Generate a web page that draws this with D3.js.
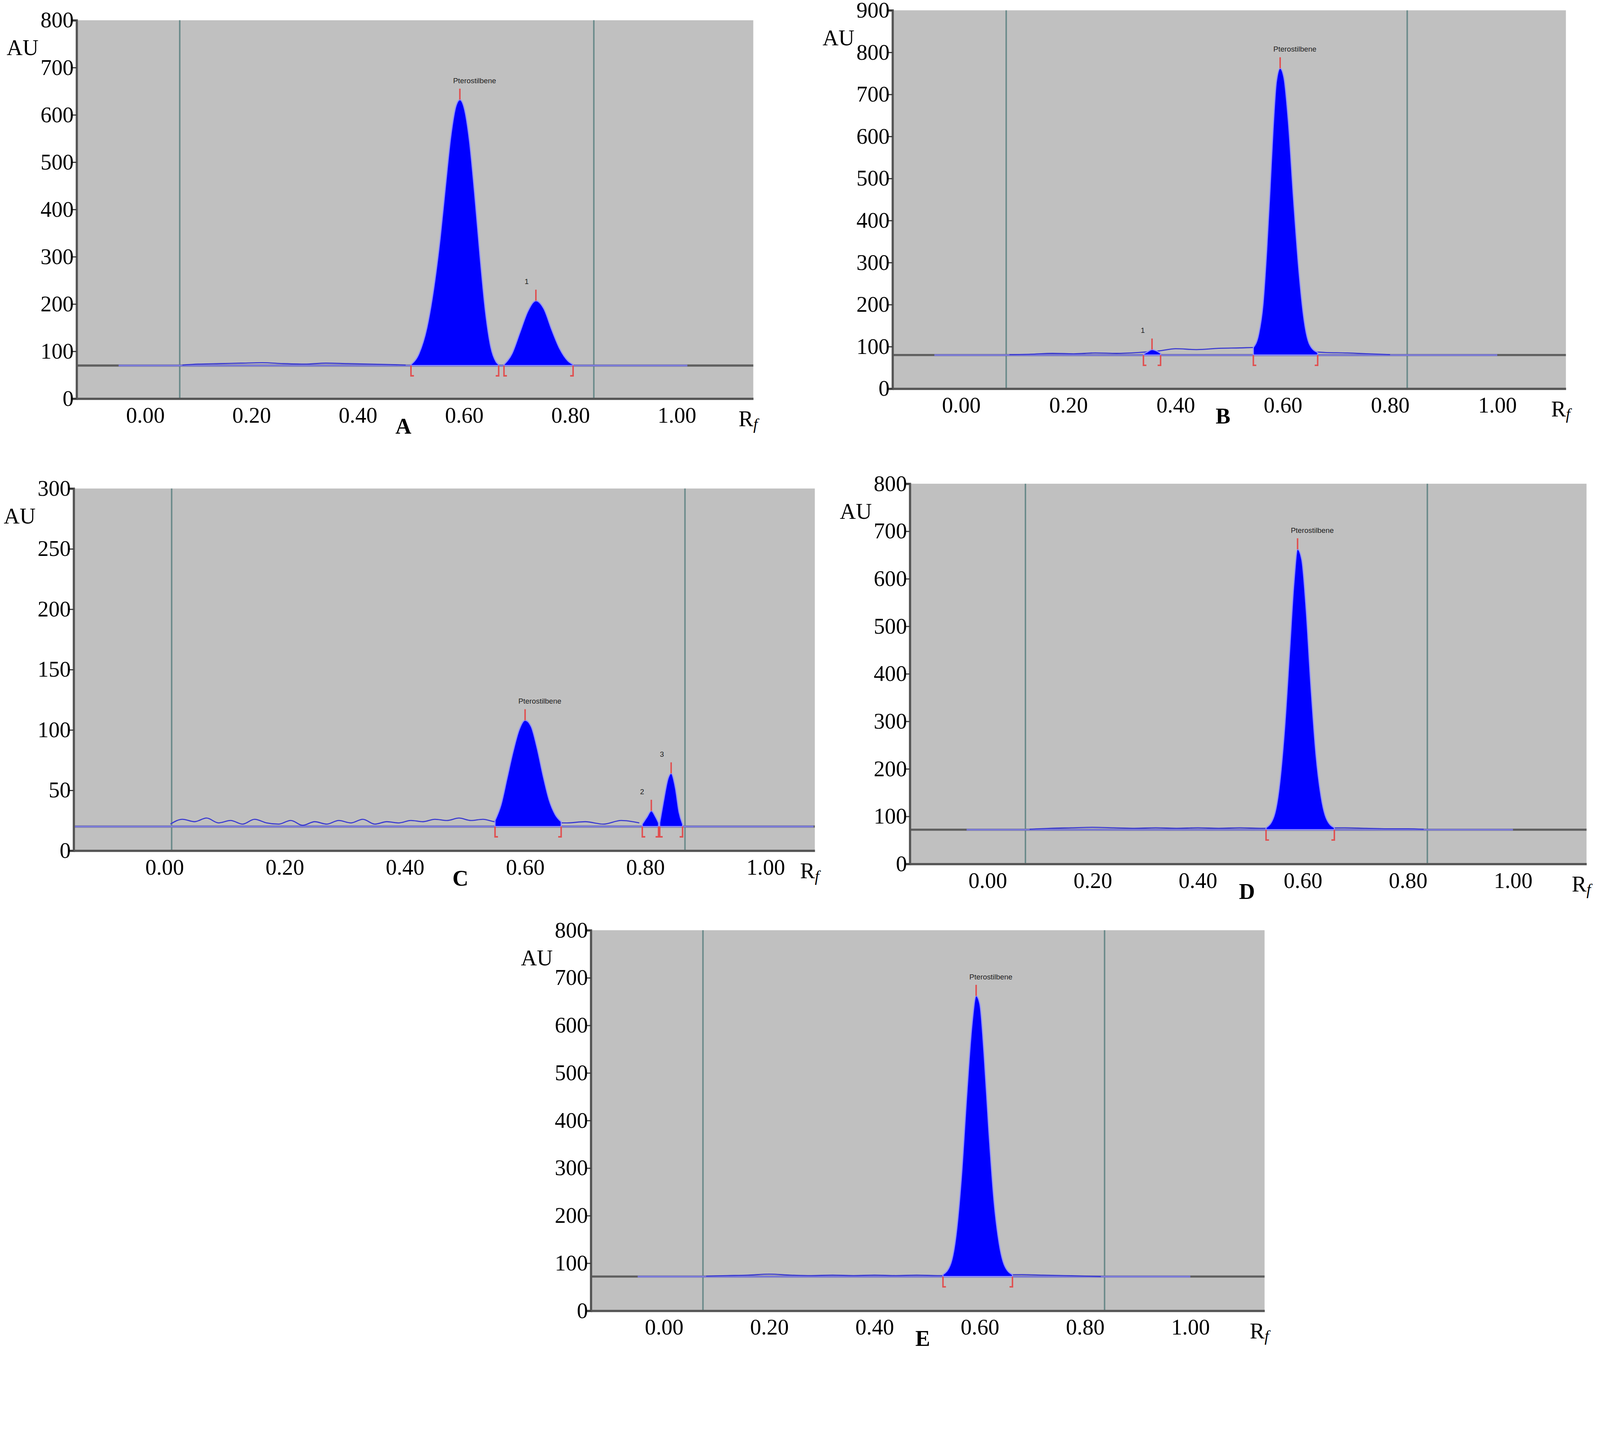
<!DOCTYPE html>
<html><head><meta charset="utf-8">
<script src="https://cdn.jsdelivr.net/npm/d3@7"></script>
<style>body{margin:0;background:#fff}svg{display:block}</style>
</head><body>
<svg id="chart" width="4351" height="3668"></svg>
<script>
// panel letters and y ranges
const panelNames = ['A', 'B', 'C', 'D', 'E'];
const yMax = [800, 900, 300, 800, 800];
const yTickStep = [100, 100, 50, 100, 100];
const xTicks = [0, 0.2, 0.4, 0.6, 0.8, 1.0];
// Rf of the two vertical plate markers
const markers = [[0.065, 0.844], [0.084, 0.832], [0.012, 0.866], [0.072, 0.837], [0.074, 0.837]];
// baseline level (AU) and the blue scan extent
const baseline = [70, 80, 20, 72, 72];
const scanRange = [[-0.05, 1.02], [-0.05, 1.0], [-0.15, 1.08], [-0.04, 1.0], [-0.05, 1.0]];
// noisy baseline trace [Rf, AU]
const noiseA = [[0.07,71],[0.10,73],[0.14,74],[0.18,75],[0.22,76],[0.26,74],[0.30,73],[0.34,75],[0.38,74],[0.42,73],[0.46,72],[0.49,71]];
const noiseB = [[0.09,81],[0.13,82],[0.17,84],[0.21,83],[0.25,85],[0.29,84],[0.33,86],[0.37,90],[0.40,95],[0.44,93],[0.48,96],[0.52,97],[0.55,98],[0.68,86],[0.72,85],[0.76,83],[0.80,81]];
const noiseC = [[0.01,22],[0.03,26],[0.05,24],[0.07,27],[0.09,23],[0.11,25],[0.13,22],[0.15,26],[0.17,23],[0.19,22],[0.21,25],[0.23,21],[0.25,24],[0.27,22],[0.29,25],[0.31,23],[0.33,26],[0.35,22],[0.37,24],[0.39,23],[0.41,25],[0.43,24],[0.45,26],[0.47,25],[0.49,27],[0.51,25],[0.53,26],[0.55,24],[0.67,23],[0.70,24],[0.73,22],[0.76,25],[0.79,23]];
const noiseD = [[0.08,73],[0.12,75],[0.16,76],[0.20,77],[0.24,76],[0.28,75],[0.32,76],[0.36,75],[0.40,76],[0.44,75],[0.48,76],[0.52,75],[0.68,76],[0.72,75],[0.76,74],[0.80,74],[0.83,73]];
const noiseE = [[0.08,73],[0.12,74],[0.16,75],[0.20,77],[0.24,75],[0.28,74],[0.32,75],[0.36,74],[0.40,75],[0.44,74],[0.48,75],[0.52,74],[0.68,76],[0.72,75],[0.76,74],[0.80,73],[0.83,72]];
const noiseData = [noiseA, noiseB, noiseC, noiseD, noiseE];
// peak profiles [Rf, AU]
const peaksA = [
  {label: 'Pterostilbene', pts: [[0.500,72],[0.515,95],[0.530,150],[0.545,250],[0.555,340],[0.565,450],[0.575,555],[0.585,620],[0.592,632],[0.600,615],[0.610,545],[0.620,430],[0.630,300],[0.640,185],[0.650,110],[0.660,78],[0.665,72]]},
  {label: '1', pts: [[0.675,72],[0.690,95],[0.705,140],[0.720,185],[0.735,207],[0.750,190],[0.765,145],[0.780,105],[0.795,80],[0.805,72]]}
];
const peaksB = [
  {label: '1', pts: [[0.340,82],[0.348,88],[0.356,93],[0.364,90],[0.372,84]]},
  {label: 'Pterostilbene', pts: [[0.545,98],[0.555,130],[0.563,200],[0.570,330],[0.576,470],[0.582,620],[0.588,730],[0.595,762],[0.602,740],[0.610,640],[0.620,450],[0.630,280],[0.640,160],[0.650,105],[0.665,86]]}
];
const peaksC = [
  {label: 'Pterostilbene', pts: [[0.550,25],[0.560,38],[0.570,60],[0.580,82],[0.590,100],[0.600,108],[0.610,103],[0.620,85],[0.630,62],[0.640,42],[0.650,30],[0.660,24]]},
  {label: '2', pts: [[0.795,22],[0.803,28],[0.810,33],[0.817,28],[0.822,23]]},
  {label: '3', pts: [[0.824,23],[0.830,40],[0.838,60],[0.843,64],[0.850,52],[0.856,32],[0.862,22]]}
];
const peaksD = [
  {label: 'Pterostilbene', pts: [[0.530,76],[0.545,100],[0.555,160],[0.565,280],[0.575,450],[0.583,590],[0.590,662],[0.598,640],[0.606,540],[0.615,380],[0.625,230],[0.635,140],[0.645,95],[0.660,76]]}
];
const peaksE = [
  {label: 'Pterostilbene', pts: [[0.530,76],[0.545,100],[0.555,160],[0.565,280],[0.575,450],[0.585,600],[0.593,662],[0.600,645],[0.608,540],[0.617,380],[0.627,230],[0.637,140],[0.647,95],[0.662,76]]}
];
const peakData = [peaksA, peaksB, peaksC, peaksD, peaksE];

// layout (pixels, before the global scale): plot box and x domain per panel
const boxes = [
  {x0: 208, x1: 2045, y0: 55, y1: 1082, d: [-0.129, 1.144], lx: 1095},
  {x0: 2423, x1: 4251, y0: 28, y1: 1055, d: [-0.128, 1.128], lx: 3320},
  {x0: 200, x1: 2212, y0: 1326, y1: 2309, d: [-0.151, 1.082], lx: 1250},
  {x0: 2470, x1: 4307, y0: 1313, y1: 2345, d: [-0.148, 1.140], lx: 3385},
  {x0: 1604, x1: 3433, y0: 2525, y1: 3558, d: [-0.139, 1.141], lx: 2505}
];
const S = 0.943;

const svg = d3.select('#chart').append('g').attr('transform', `scale(${S})`);
const serif = 'Liberation Serif, Times New Roman, serif';

panelNames.forEach((name, i) => {
  const b = boxes[i];
  const x = d3.scaleLinear().domain(b.d).range([b.x0, b.x1]);
  const y = d3.scaleLinear().domain([0, yMax[i]]).range([b.y1, b.y0]);
  const g = svg.append('g');

  g.append('rect').attr('x', b.x0).attr('y', b.y0)
    .attr('width', b.x1 - b.x0).attr('height', b.y1 - b.y0).attr('fill', '#c0c0c0');

  markers[i].forEach(m => {
    g.append('line').attr('x1', x(m)).attr('x2', x(m)).attr('y1', b.y0).attr('y2', b.y1)
      .attr('stroke', '#6a8a8a').attr('stroke-width', 4);
  });

  // baseline
  g.append('line').attr('x1', b.x0).attr('x2', b.x1).attr('y1', y(baseline[i])).attr('y2', y(baseline[i]))
    .attr('stroke', '#606060').attr('stroke-width', 6);
  g.append('line').attr('x1', x(scanRange[i][0])).attr('x2', x(scanRange[i][1]))
    .attr('y1', y(baseline[i])).attr('y2', y(baseline[i]))
    .attr('stroke', '#7c7cd8').attr('stroke-width', 5);

  const line = d3.line().x(d => x(d[0])).y(d => y(d[1])).curve(d3.curveMonotoneX);
  g.append('path').datum(noiseData[i]).attr('d', line)
    .attr('fill', 'none').attr('stroke', '#3a3ad0').attr('stroke-width', 3);

  const area = d3.area().x(d => x(d[0])).y0(y(baseline[i])).y1(d => y(d[1])).curve(d3.curveMonotoneX);
  peakData[i].forEach(p => {
    g.append('path').datum(p.pts).attr('d', area)
      .attr('fill', '#0000ff').attr('stroke', '#9090ff').attr('stroke-width', 3);
    const apex = p.pts.reduce((a, c) => c[1] > a[1] ? c : a);
    const s = p.pts[0], e = p.pts[p.pts.length - 1];
    const yb = y(baseline[i]);
    g.append('line').attr('x1', x(apex[0])).attr('x2', x(apex[0]))
      .attr('y1', y(apex[1]) - 30).attr('y2', y(apex[1]))
      .attr('stroke', '#e05050').attr('stroke-width', 4);
    [[s[0], 1], [e[0], -1]].forEach(([r, dir]) => {
      g.append('path')
        .attr('d', `M${x(r)},${yb} v28 h${dir * 8}`)
        .attr('fill', 'none').attr('stroke', '#e05050').attr('stroke-width', 4);
    });
    g.append('text').attr('x', x(apex[0]) + (p.label.length > 2 ? 40 : -25)).attr('y', y(apex[1]) - 45)
      .attr('text-anchor', 'middle').attr('font-family', 'Arial, Liberation Sans, sans-serif')
      .attr('font-size', 20).attr('fill', '#222').text(p.label);
  });

  // axes
  const yAxis = d3.axisLeft(y).tickValues(d3.range(0, yMax[i] + 1, yTickStep[i]))
    .tickSize(14).tickFormat(d3.format('d'));
  const ya = g.append('g').attr('transform', `translate(${b.x0},0)`).call(yAxis);
  const xAxis = d3.axisBottom(x).tickValues(xTicks).tickSize(0).tickFormat(d3.format('.2f'));
  const xa = g.append('g').attr('transform', `translate(0,${b.y1})`).call(xAxis);
  [ya, xa].forEach(a => {
    a.select('.domain').attr('stroke', '#555').attr('stroke-width', 6);
    a.selectAll('.tick line').attr('stroke', '#333').attr('stroke-width', 3);
    a.selectAll('text').attr('font-family', serif).attr('font-size', 60).attr('fill', '#000');
  });
  ya.selectAll('text').attr('x', -8);
  xa.selectAll('text').attr('dy', 0).attr('y', 65);

  g.append('text').attr('x', b.x0 - 190).attr('y', b.y0 + 95).attr('font-family', serif)
    .attr('font-size', 60).text('AU');
  const rf = g.append('text').attr('x', b.x1 - 40).attr('y', b.y1 + 75)
    .attr('font-family', serif).attr('font-size', 60);
  rf.append('tspan').text('R');
  rf.append('tspan').attr('font-style', 'italic').attr('font-size', 42).attr('dy', 8).text('f');
  g.append('text').attr('x', b.lx).attr('y', b.y1 + 95).attr('text-anchor', 'middle')
    .attr('font-family', serif).attr('font-weight', 'bold').attr('font-size', 60).text(name);
});
</script>
</body></html>
